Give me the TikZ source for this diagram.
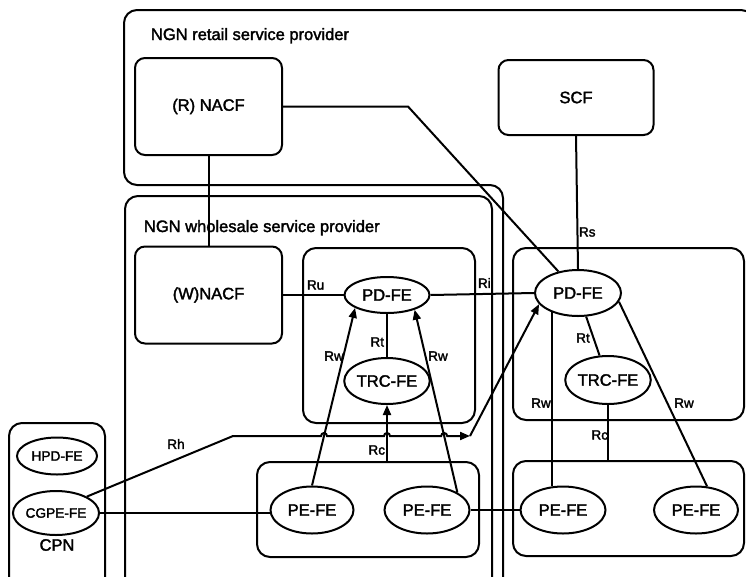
\documentclass[tikz,border=0pt]{standalone}
\usepackage{fontspec}
\setmainfont{Liberation Sans}[FakeBold=2]
\usetikzlibrary{shapes.geometric,arrows.meta,intersections,calc}

\begin{document}
\begin{tikzpicture}[x=1pt,y=-1pt,
  line width=2pt,
  mainfont/.style={font=\fontsize{16.5}{18}\selectfont},
  fe/.style={ellipse,draw,inner sep=0pt,mainfont},
  smallfe/.style={ellipse,draw,inner sep=0pt,font=\fontsize{13.7}{15}\selectfont},
  fnbox/.style={draw,rounded corners=10pt,inner sep=0pt,mainfont},
  area/.style={draw,rounded corners=13pt,inner sep=0pt},
  lbl/.style={inner sep=0pt,font=\fontsize{13.5}{15}\selectfont},
  arr/.style={-{Triangle[length=10pt,width=8pt]}},
]
\useasboundingbox (0,0) rectangle (746,576);
\begin{scope}
\clip (0,0) rectangle (746,576);

% provider domains
\draw[rounded corners=13pt] (124,100) -- (124,10) -- (754,10) -- (754,592)
      -- (503,592) -- (503,185) -- (124,185) -- cycle;
\node[area, minimum width=367pt, minimum height=396pt] (whole) at (308.5,394) {};
\node[area, minimum width=96pt, minimum height=170pt] (cpn) at (57,508) {};

% functional groups
\node[area, minimum width=172pt, minimum height=175pt] (pdbox1) at (389,335.5) {};
\node[area, minimum width=231pt, minimum height=172pt] (pdbox2) at (628.5,334) {};
\node[area, minimum width=222pt, minimum height=95pt] (pebox1) at (368,509.5) {};
\node[area, minimum width=231pt, minimum height=95pt] (pebox2) at (628.5,508.5) {};

% titles
\node[mainfont, anchor=base west, inner sep=0pt] (tret) at (150,40) {NGN retail service provider};
\node[mainfont, anchor=base west, inner sep=0pt] (twho) at (143,232) {NGN wholesale service provider};

% functional entities
\node[fnbox, minimum width=147pt, minimum height=97pt] (rnacf) at (208.5,106.5) {(R) NACF};
\node[fnbox, minimum width=155pt, minimum height=75pt] (scf) at (576,97.5) {SCF};
\node[fnbox, minimum width=147pt, minimum height=97pt] (wnacf) at (208.5,295) {(W)NACF};

\node[fe, minimum width=85pt, minimum height=36pt] (pd1) at (387,295) {PD-FE};
\node[fe, minimum width=77pt, minimum height=46pt] (trc1) at (387,381) {TRC-FE};
\node[fe, minimum width=86pt, minimum height=46pt] (pd2) at (578,293) {PD-FE};
\node[fe, minimum width=84pt, minimum height=48pt] (trc2) at (608,380) {TRC-FE};

\node[fe, minimum width=83pt, minimum height=47pt] (pe1) at (312,510) {PE-FE};
\node[fe, minimum width=85pt, minimum height=47pt] (pe2) at (427,510) {PE-FE};
\node[fe, minimum width=85pt, minimum height=47pt] (pe3) at (563,510) {PE-FE};
\node[fe, minimum width=84pt, minimum height=47pt] (pe4) at (696,510) {PE-FE};

\node[smallfe, minimum width=80pt, minimum height=37pt] (hpd) at (57,456) {HPD-FE};
\node[smallfe, minimum width=82pt, minimum height=44pt] (cgpe) at (56,513) {CGPE-FE};
\node[mainfont, inner sep=0pt] (cpnlbl) at (57,545) {CPN};

% reference points
\draw (rnacf) -- (wnacf);
\draw (rnacf.east) -- (rnacf.east -| 408,0) -- (pd2);
\draw (scf.south) -- (pd2.north);
\draw (wnacf) -- (pd1);
\draw (pd1.east) -- (pd2.west);
\draw (pd1) -- (trc1);
\draw[arr, name path=rwl] (pe1.north) -- (pd1.202);
\draw[arr, name path=rwr] (pe2.30) -- (pd1.332);
\draw[arr, name path=rcl] (trc1 |- pebox1.north) -- (trc1.south);

\draw (pd2) -- (trc2);
\draw (pd2.217) -- (pd2.217 |- pe3.north);
\draw (pd2.-12) -- (pe4.65);
\draw (trc2.south) -- (trc2.south |- pebox2.north);
\draw (pe2.east) -- (pe3.west);
\draw (cgpe.east) -- (cgpe.east -| pe1.west);

% Rh with hops over the crossing lines
\coordinate (rhA) at (233,436);
\coordinate (rhB) at (470,436);
\path[name path=rhh] (rhA) -- (rhB);
\path[name intersections={of=rhh and rwl, by=h1}];
\path[name intersections={of=rhh and rcl, by=h2}];
\path[name intersections={of=rhh and rwr, by=h3}];
\draw[arr] (cgpe.28) -- (rhA)
  -- ($(h1)+(-3pt,0)$) arc[start angle=180, end angle=0, radius=3pt]
  -- ($(h2)+(-3pt,0)$) arc[start angle=180, end angle=0, radius=3pt]
  -- ($(h3)+(-3pt,0)$) arc[start angle=180, end angle=0, radius=3pt]
  -- (rhB);
\draw[arr] (rhB) -- (pd2.196);

% reference point labels
\node[lbl, anchor=west] (lrs) at (578,232) {Rs};
\node[lbl, anchor=west] (lru) at (306,285) {Ru};
\node[lbl, anchor=west] (lri) at (477,283) {Ri};
\node[lbl, anchor=east] (lrt1) at (385,342) {Rt};
\node[lbl] (lrw1) at (334,356) {Rw};
\node[lbl] (lrw2) at (438,356) {Rw};
\node[lbl, anchor=east] (lrc1) at (386,450) {Rc};
\node[lbl] (lrh) at (176,444) {Rh};
\node[lbl] (lrt2) at (583,338) {Rt};
\node[lbl] (lrw3) at (541,403) {Rw};
\node[lbl] (lrw4) at (684,403) {Rw};
\node[lbl, anchor=east] (lrc2) at (609,435) {Rc};
\end{scope}
\end{tikzpicture}
\end{document}
